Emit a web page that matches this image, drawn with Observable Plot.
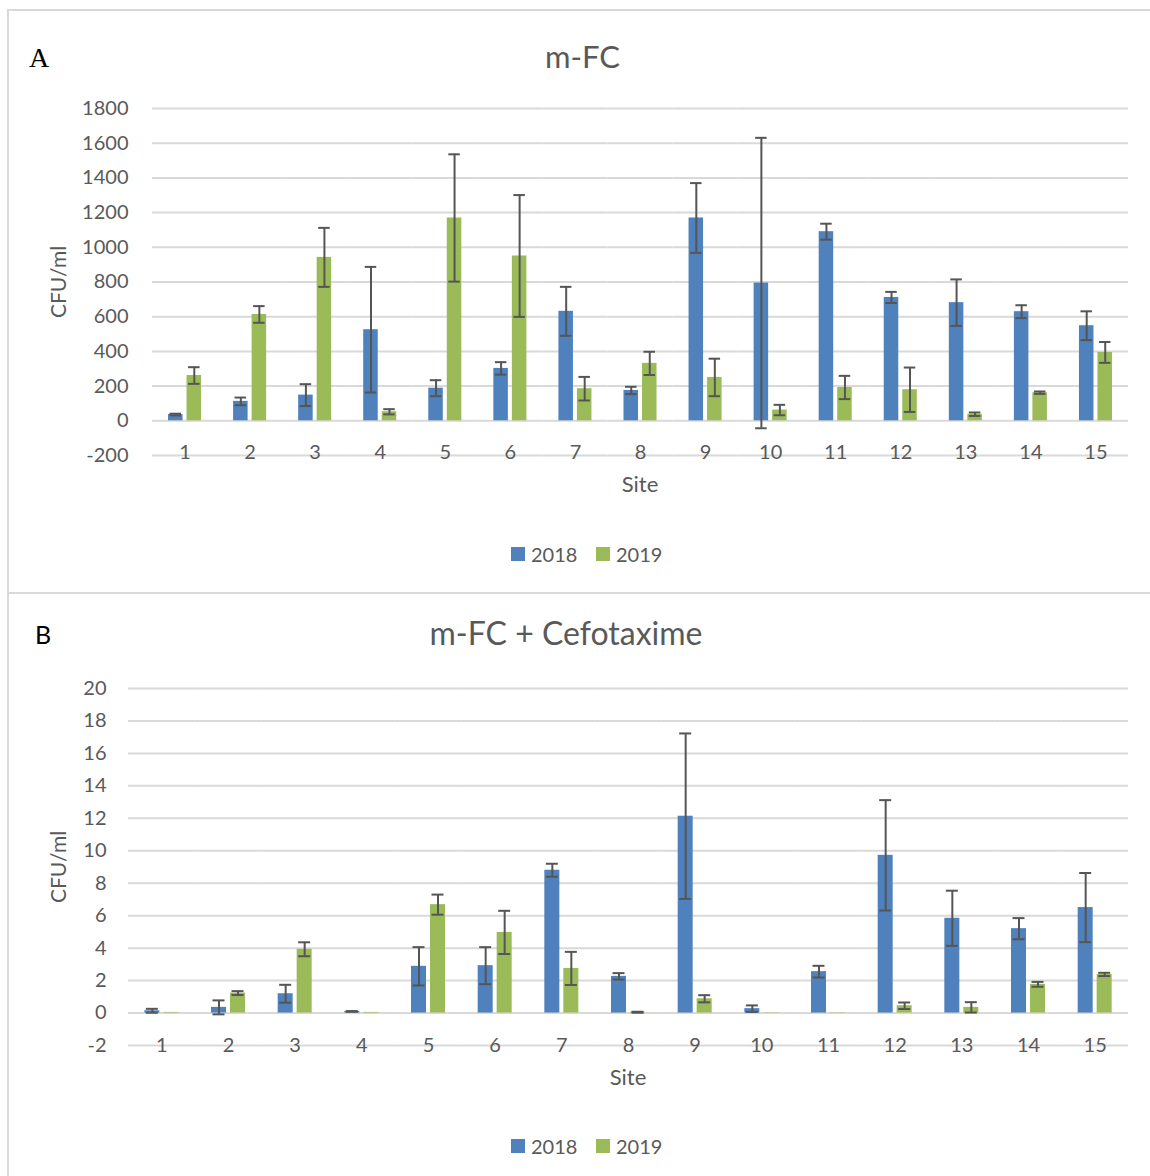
<!DOCTYPE html>
<html>
<head>
<meta charset="utf-8">
<script src="https://cdn.jsdelivr.net/npm/d3@7"></script>
<script src="https://cdn.jsdelivr.net/npm/@observablehq/plot@0.6"></script>
<style>
  html, body { margin: 0; padding: 0; background: #fff; }
  body { width: 1150px; height: 1176px; position: relative; overflow: hidden; font-family: Lato, sans-serif; }
  .abs { position: absolute; white-space: nowrap; }
  .c { transform: translate(-50%, -50%); line-height: 1; }
  .frame { position: absolute; border-color: #d9d9d9; border-style: solid; }
  .sw { position: absolute; width: 14px; height: 14px; }
</style>
</head>
<body>
<script>
// ---------- data ----------
const sites = [1, 2, 3, 4, 5, 6, 7, 8, 9, 10, 11, 12, 13, 14, 15];
const years = ["2018", "2019"];

// Panel A: m-FC (CFU/ml)
const mfc2018    = [36, 112, 148, 525, 188, 302, 631, 175, 1169, 794, 1090, 711, 681, 629, 548];
const mfc2018Err = [5, 22, 63, 362, 46, 36, 141, 21, 201, 837, 46, 32, 134, 37, 83];
const mfc2019    = [261, 613, 942, 52, 1169, 950, 185, 331, 250, 62, 192, 179, 38, 162, 394];
const mfc2019Err = [48, 48, 170, 15, 367, 351, 68, 67, 108, 30, 67, 128, 10, 7, 60];
const yTicksA = [-200, 0, 200, 400, 600, 800, 1000, 1200, 1400, 1600, 1800];

// Panel B: m-FC + Cefotaxime (CFU/ml)
const cef2018    = [0.14, 0.35, 1.19, 0.1, 2.88, 2.92, 8.8, 2.26, 12.13, 0.27, 2.55, 9.72, 5.84, 5.2, 6.5];
const cef2018Err = [0.12, 0.43, 0.55, 0.02, 1.18, 1.14, 0.4, 0.2, 5.1, 0.2, 0.36, 3.4, 1.7, 0.65, 2.13];
const cef2019    = [0.04, 1.23, 3.93, 0.04, 6.68, 4.97, 2.75, 0.05, 0.88, 0.02, 0.02, 0.45, 0.35, 1.77, 2.38];
const cef2019Err = [0, 0.12, 0.43, 0, 0.62, 1.33, 1.02, 0.03, 0.22, 0, 0, 0.2, 0.32, 0.15, 0.1];
const yTicksB = [-2, 0, 2, 4, 6, 8, 10, 12, 14, 16, 18, 20];

const colors = ["#4f81bd", "#9bbb59"];

function rows(v18, e18, v19, e19) {
  const out = [];
  sites.forEach((s, i) => {
    out.push({site: s, year: "2018", value: v18[i], err: e18[i]});
    out.push({site: s, year: "2019", value: v19[i], err: e19[i]});
  });
  return out;
}

function panel(cfg) {
  const data = rows(...cfg.series);
  const eb = data.filter(d => d.err > 0);
  const chart = Plot.plot({
    width: 1150,
    height: cfg.height,
    marginLeft: cfg.marginLeft,
    marginRight: 22,
    marginTop: cfg.marginTop,
    marginBottom: cfg.marginBottom,
    style: {fontFamily: "Lato, sans-serif", fontSize: "20px", color: "#595959", background: "transparent", overflow: "visible"},
    fx: {domain: sites, padding: 0, round: false, axis: null, label: null},
    x: {domain: years, paddingInner: cfg.pi, paddingOuter: cfg.po, round: false, axis: null},
    y: {domain: cfg.yDomain, axis: null},
    color: {domain: years, range: colors},
    marks: [
      Plot.gridY(cfg.yTicks, {stroke: "#d9d9d9", strokeOpacity: 1, strokeWidth: 2}),
      Plot.axisY(cfg.yTicks, {tickSize: 0, tickPadding: cfg.tickPadding, label: null, fill: "#595959", fontSize: 20, tickFormat: d => String(d)}),
      Plot.barY(data, {fx: "site", x: "year", y: "value", fill: "year"}),
      Plot.ruleX(eb, {fx: "site", x: "year", y1: d => d.value - d.err, y2: d => d.value + d.err, stroke: "#555555", strokeWidth: 2}),
      Plot.tickY(eb, {fx: "site", x: "year", y: d => d.value + d.err, stroke: "#555555", strokeWidth: 2, insetLeft: 1.5, insetRight: 1.5}),
      Plot.tickY(eb, {fx: "site", x: "year", y: d => d.value - d.err, stroke: "#555555", strokeWidth: 2, insetLeft: 1.5, insetRight: 1.5}),
      Plot.text(sites, {fx: d => d, text: d => String(d), frameAnchor: "bottom", lineAnchor: "middle", dy: cfg.labelDy, fill: "#595959", fontSize: 20})
    ]
  });
  chart.style.position = "absolute";
  chart.style.left = "0px";
  chart.style.top = cfg.top + "px";
  document.body.appendChild(chart);
}

function addText(txt, x, y, style) {
  const d = document.createElement("div");
  d.className = "abs c";
  d.textContent = txt;
  d.style.left = x + "px";
  d.style.top = y + "px";
  Object.assign(d.style, style);
  document.body.appendChild(d);
  return d;
}

function legend(yc) {
  years.forEach((yr, i) => {
    const sx = [511, 596][i];
    const s = document.createElement("div");
    s.className = "sw";
    s.style.left = sx + "px";
    s.style.top = (yc - 7) + "px";
    s.style.background = colors[i];
    document.body.appendChild(s);
    const t = document.createElement("div");
    t.className = "abs";
    t.textContent = yr;
    t.style.left = (sx + 20) + "px";
    t.style.top = yc + "px";
    t.style.transform = "translate(0, -50%)";
    t.style.lineHeight = "1";
    t.style.fontSize = "20px";
    t.style.color = "#595959";
    document.body.appendChild(t);
  });
}

// frames
const f1 = document.createElement("div");
f1.className = "frame";
Object.assign(f1.style, {left: "7px", top: "9px", width: "1150px", height: "1200px", borderWidth: "2px 0 0 2px"});
document.body.appendChild(f1);
const f2 = document.createElement("div");
f2.className = "frame";
Object.assign(f2.style, {left: "7px", top: "592px", width: "1150px", height: "0px", borderWidth: "2px 0 0 0"});
document.body.appendChild(f2);

// Panel A
panel({
  series: [mfc2018, mfc2018Err, mfc2019, mfc2019Err],
  yDomain: [-200, 1800], yTicks: yTicksA,
  top: 80, height: 430, marginTop: 28, marginBottom: 55, marginLeft: 152,
  tickPadding: 24, pi: 0.216, po: 0.865, labelDy: -2.5
});
addText("A", 39, 58, {fontFamily: "'Liberation Serif', 'DejaVu Serif', serif", fontSize: "28px", color: "#000"});
addText("m-FC", 582.5, 56, {fontSize: "31px", color: "#595959"});
addText("CFU/ml", 57, 282, {fontSize: "21px", color: "#595959", transform: "translate(-50%, -50%) rotate(-90deg)"});
addText("Site", 640, 484, {fontSize: "22px", color: "#595959"});
legend(554);

// Panel B
panel({
  series: [cef2018, cef2018Err, cef2019, cef2019Err],
  yDomain: [-2, 20], yTicks: yTicksB,
  top: 660, height: 420, marginTop: 28, marginBottom: 35, marginLeft: 128,
  tickPadding: 22, pi: 0.21, po: 0.86, labelDy: 0.5
});
addText("B", 43, 634, {fontSize: "25px", color: "#000"});
addText("m-FC + Cefotaxime", 566, 633, {fontSize: "32px", color: "#595959"});
addText("CFU/ml", 57, 867, {fontSize: "21px", color: "#595959", transform: "translate(-50%, -50%) rotate(-90deg)"});
addText("Site", 628, 1077, {fontSize: "22px", color: "#595959"});
legend(1146);
</script>
</body>
</html>
